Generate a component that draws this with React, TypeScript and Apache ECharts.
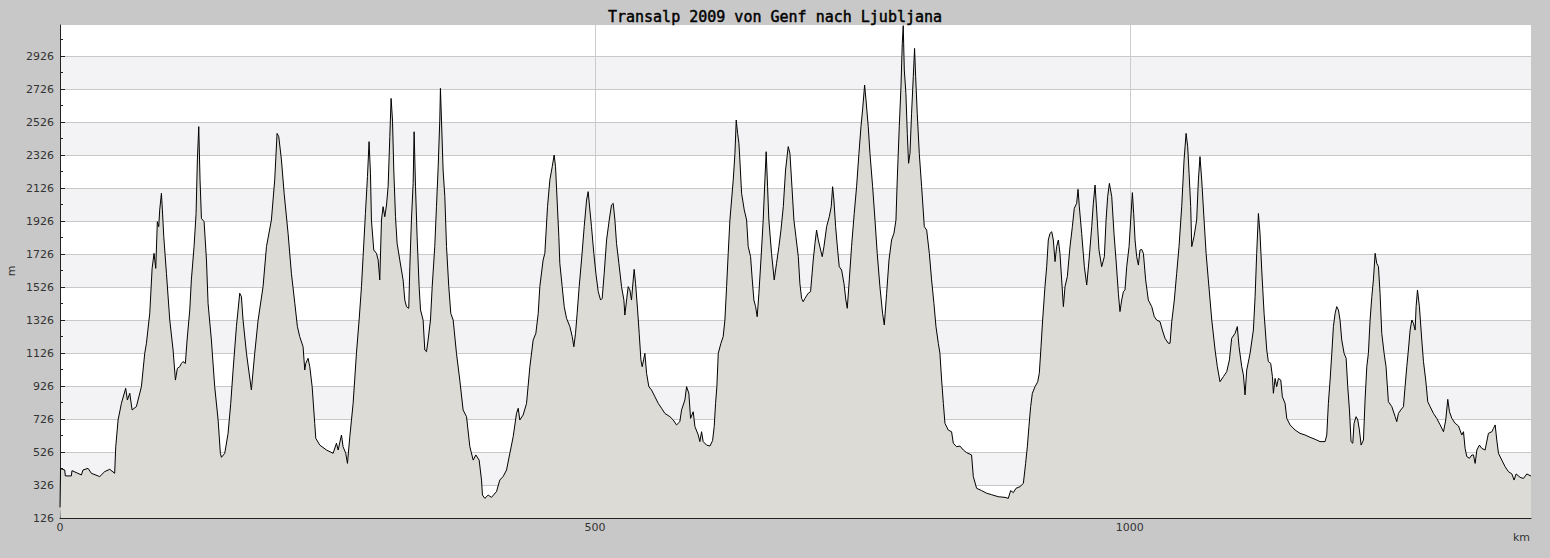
import React, { useEffect, useRef } from "react";
import * as echarts from "echarts";

const chartTitle = "Transalp 2009 von Genf nach Ljubljana";

const distanceKm = [
  0, 0.5, 4.4, 5.0, 10.6, 11.2, 20.0, 21.5, 26.2, 29.3, 37.1, 41.8, 46.5, 51.1, 52.1, 54.3, 57.4, 61.4, 63.0, 65.2,
  67.4, 71.4, 76.1, 79.2, 80.8, 83.9, 86.1, 87.9, 89.5, 91.0, 92.3, 93.2, 94.8, 95.7, 97.0, 99.5, 102.6, 105.7, 107.9, 109.7,
  111.9, 113.5, 115.0, 117.2, 118.8, 121.3, 122.8, 125.3, 127.2, 128.4, 129.7, 130.9, 132.2, 134.7, 136.9, 138.4, 141.5, 144.6, 147.8, 149.9,
  150.9, 154.0, 157.1, 159.6, 161.8, 164.9, 168.0, 169.6, 171.1, 174.3, 178.9, 182.0, 185.2, 189.8, 193.0, 197.6, 200.7, 202.9, 204.5, 207.0,
  209.5, 213.2, 216.3, 219.5, 221.9, 224.1, 227.2, 228.8, 229.7, 231.9, 233.5, 235.7, 238.1, 239.1, 242.8, 249.1, 255.3, 258.4, 260.0, 263.1,
  264.6, 267.1, 268.7, 270.9, 274.0, 277.1, 279.6, 281.8, 283.3, 285.5, 287.4, 288.9, 290.2, 291.1, 293.3, 295.8, 297.4, 298.9, 300.5, 302.0,
  303.6, 305.2, 306.7, 308.3, 309.5, 310.8, 312.0, 313.6, 315.1, 317.6, 320.7, 322.3, 323.9, 326.0, 327.0, 328.5, 330.1, 331.0, 332.3, 333.8,
  335.7, 337.0, 339.4, 341.0, 342.6, 344.1, 346.3, 347.9, 350.3, 351.9, 353.5, 355.0, 355.6, 356.6, 358.1, 359.7, 361.3, 363.4, 365.3, 367.5,
  370.6, 373.7, 376.8, 380.0, 383.1, 386.2, 388.7, 391.8, 394.0, 394.9, 397.1, 400.2, 403.3, 408.0, 411.1, 414.2, 417.4, 420.5, 423.6, 426.7,
  428.3, 429.8, 432.9, 436.1, 439.2, 442.3, 444.8, 447.0, 448.5, 451.6, 453.2, 455.7, 457.9, 460.1, 461.9, 463.2, 465.1, 466.3, 467.2, 469.4,
  471.3, 473.5, 476.6, 478.8, 480.3, 481.9, 483.4, 485.3, 487.5, 490.0, 492.2, 493.7, 495.3, 496.8, 499.0, 500.9, 503.1, 505.3, 506.8, 508.7,
  510.9, 513.4, 515.5, 517.1, 518.7, 520.2, 522.4, 524.9, 527.1, 528.0, 529.6, 531.1, 532.7, 534.2, 535.8, 536.7, 538.0, 539.9, 541.4, 543.0,
  544.2, 545.5, 546.7, 548.3, 550.4, 552.9, 556.1, 559.2, 562.3, 565.4, 570.1, 573.2, 576.3, 579.4, 581.0, 584.1, 585.7, 587.8, 589.4, 591.9,
  593.5, 596.6, 598.1, 599.7, 601.2, 604.4, 607.5, 610.0, 611.5, 612.8, 614.0, 615.3, 617.8, 619.9, 621.5, 623.1, 624.6, 626.2, 629.3, 630.9,
  632.1, 633.4, 634.6, 635.5, 637.1, 639.6, 641.8, 643.3, 645.5, 647.1, 648.6, 650.2, 651.7, 653.3, 655.2, 657.3, 658.9, 660.1, 661.4, 662.6,
  665.1, 667.6, 669.8, 672.0, 673.9, 676.1, 678.2, 680.7, 682.3, 683.8, 686.0, 687.9, 690.1, 691.6, 693.2, 694.7, 696.3, 699.4, 701.6, 702.5,
  704.1, 705.7, 707.2, 708.8, 711.0, 712.5, 714.1, 716.6, 719.1, 720.9, 722.2, 723.4, 725.0, 726.9, 728.4, 730.6, 732.8, 734.6, 735.9, 737.8,
  739.9, 742.4, 744.6, 746.8, 748.7, 750.2, 752.1, 753.4, 755.5, 757.1, 759.6, 761.8, 763.9, 766.4, 768.9, 770.5, 772.7, 774.9, 777.3, 779.5,
  781.4, 782.6, 784.5, 786.1, 787.3, 788.2, 789.2, 790.7, 792.0, 793.2, 794.5, 796.0, 797.6, 798.8, 799.8, 801.3, 803.2, 805.4, 807.9, 810.1,
  812.6, 814.7, 816.9, 818.8, 821.0, 822.5, 824.1, 825.7, 827.2, 830.3, 833.4, 835.0, 838.1, 841.2, 844.4, 847.5, 852.1, 853.7, 856.8, 861.5,
  866.2, 870.9, 877.1, 883.3, 886.4, 888.6, 891.1, 893.6, 897.3, 900.5, 902.6, 904.2, 905.7, 907.3, 908.9, 911.4, 913.9, 915.4, 917.0, 918.5,
  920.7, 922.3, 923.8, 925.4, 927.0, 928.5, 930.1, 931.6, 933.2, 934.7, 936.3, 937.9, 939.4, 941.6, 944.1, 946.3, 948.1, 950.3, 951.6, 952.8,
  955.0, 957.5, 959.7, 961.9, 964.4, 965.9, 967.5, 969.0, 971.2, 973.7, 976.2, 977.8, 979.3, 980.9, 983.1, 985.2, 987.1, 989.3, 990.8, 992.4,
  994.0, 995.5, 997.1, 999.3, 1000.8, 1002.4, 1003.6, 1004.9, 1006.4, 1008.0, 1009.5, 1011.1, 1012.7, 1014.8, 1017.3, 1020.5, 1022.9, 1025.1, 1028.2, 1030.4,
  1032.9, 1036.0, 1037.6, 1039.2, 1041.6, 1043.8, 1046.0, 1048.5, 1050.7, 1052.6, 1054.1, 1055.4, 1056.9, 1057.9, 1060.0, 1062.5, 1064.1, 1065.6, 1067.2, 1069.4,
  1071.3, 1073.4, 1076.6, 1079.7, 1081.8, 1084.3, 1087.5, 1090.6, 1093.1, 1095.2, 1098.4, 1100.5, 1102.1, 1104.6, 1106.2, 1107.7, 1109.3, 1112.4, 1115.5, 1117.1,
  1118.6, 1120.2, 1121.7, 1123.3, 1125.5, 1128.0, 1129.5, 1131.7, 1133.3, 1134.2, 1135.8, 1137.3, 1138.9, 1141.1, 1142.6, 1145.1, 1146.7, 1149.8, 1154.5, 1159.1,
  1163.8, 1168.5, 1173.2, 1177.8, 1182.5, 1184.1, 1185.6, 1187.2, 1188.8, 1190.3, 1191.9, 1193.4, 1195.0, 1196.5, 1198.1, 1200.3, 1202.2, 1203.7, 1205.3, 1206.8,
  1208.4, 1209.6, 1211.5, 1213.1, 1214.6, 1216.2, 1218.4, 1219.9, 1221.5, 1223.0, 1224.6, 1226.2, 1227.7, 1229.3, 1230.8, 1232.4, 1233.9, 1235.5, 1237.7, 1239.5,
  1241.7, 1244.9, 1248.0, 1249.5, 1251.1, 1253.3, 1255.8, 1257.3, 1258.9, 1260.4, 1262.0, 1263.6, 1265.1, 1266.7, 1267.6, 1268.9, 1270.7, 1272.9, 1274.5, 1276.6,
  1278.5, 1280.7, 1283.8, 1286.9, 1290.1, 1293.2, 1295.3, 1297.2, 1298.8, 1301.0, 1304.1, 1307.2, 1310.3, 1311.9, 1313.4, 1315.0, 1317.5, 1319.7, 1321.2, 1322.8,
  1324.4, 1326.8, 1329.0, 1332.1, 1335.2, 1338.4, 1339.9, 1341.5, 1343.0, 1344.6, 1347.7, 1350.8, 1353.9, 1357.1, 1359.2, 1361.1, 1364.9, 1368.0, 1371.1, 1375.0,
];

const elevationM = [
  190, 425, 417, 381, 381, 413, 387, 417, 427, 397, 377, 407, 421, 397, 558, 720, 821, 912, 841, 882,
  781, 801, 922, 1124, 1185, 1367, 1639, 1730, 1639, 1922, 1892, 1993, 2094, 1993, 1831, 1609, 1326, 1144, 962, 1033,
  1043, 1063, 1074, 1063, 1205, 1387, 1569, 1771, 1972, 2296, 2498, 2175, 1942, 1922, 1690, 1427, 1205, 922, 720, 518,
  494, 518, 639, 821, 1023, 1286, 1488, 1467, 1326, 1124, 902, 1124, 1326, 1528, 1771, 1932, 2175, 2457, 2437, 2296,
  2094, 1851, 1609, 1427, 1286, 1225, 1164, 1023, 1063, 1094, 1043, 922, 700, 609, 568, 538, 518, 579, 538, 629,
  558, 518, 457, 619, 821, 1124, 1326, 1528, 1710, 1972, 2195, 2407, 2215, 1932, 1750, 1730, 1690, 1569, 1932, 2013,
  1952, 2023, 2134, 2437, 2669, 2538, 2235, 1952, 1791, 1690, 1569, 1447, 1407, 1397, 1649, 1932, 2154, 2467, 2134, 1831,
  1528, 1387, 1326, 1144, 1134, 1205, 1326, 1528, 1771, 2013, 2255, 2538, 2730, 2538, 2235, 2074, 1771, 1528, 1366, 1326,
  1124, 962, 781, 740, 558, 477, 508, 477, 356, 265, 245, 265, 251, 286, 356, 377, 417, 518, 619, 760,
  791, 720, 750, 821, 1043, 1205, 1245, 1366, 1528, 1690, 1730, 2013, 2175, 2255, 2326, 2255, 1993, 1831, 1670, 1528,
  1407, 1336, 1286, 1225, 1164, 1245, 1366, 1528, 1690, 1892, 2053, 2104, 1993, 1892, 1730, 1609, 1498, 1447, 1457, 1609,
  1811, 1932, 2023, 2033, 1932, 1791, 1670, 1528, 1447, 1356, 1447, 1528, 1508, 1447, 1569, 1633, 1548, 1387, 1245, 1084,
  1043, 1084, 1124, 1003, 922, 902, 861, 821, 791, 760, 740, 720, 690, 710, 781, 841, 922, 882, 730, 770,
  680, 629, 589, 649, 589, 568, 562, 595, 680, 821, 922, 1124, 1185, 1225, 1326, 1528, 1730, 1932, 2175, 2336,
  2538, 2457, 2397, 2296, 2094, 1993, 1932, 1771, 1710, 1569, 1447, 1407, 1346, 1488, 1690, 1932, 2175, 2346, 2134, 1932,
  1730, 1569, 1670, 1771, 1871, 2013, 2235, 2377, 2336, 2175, 1932, 1831, 1710, 1548, 1457, 1437, 1457, 1488, 1498, 1569,
  1690, 1791, 1871, 1811, 1750, 1710, 1771, 1892, 1952, 2013, 2134, 2053, 1892, 1750, 1649, 1629, 1548, 1447, 1397, 1569,
  1771, 1972, 2134, 2336, 2498, 2599, 2750, 2659, 2498, 2336, 2134, 1932, 1730, 1528, 1366, 1296, 1488, 1690, 1811, 1851,
  1932, 2175, 2498, 2740, 3003, 3110, 2841, 2700, 2457, 2276, 2336, 2579, 2801, 2972, 2801, 2579, 2336, 2134, 1892, 1871,
  1730, 1569, 1427, 1286, 1185, 1124, 962, 821, 700, 659, 649, 579, 558, 562, 538, 522, 508, 377, 306, 292,
  276, 267, 255, 251, 245, 292, 280, 306, 316, 336, 457, 558, 680, 801, 882, 922, 952, 1003, 1164, 1326,
  1528, 1649, 1811, 1851, 1861, 1811, 1680, 1771, 1811, 1730, 1569, 1407, 1528, 1589, 1771, 1892, 2003, 2033, 2118, 2013,
  1851, 1649, 1538, 1690, 1892, 2033, 2144, 1993, 1750, 1649, 1710, 1932, 2074, 2154, 2074, 1851, 1690, 1488, 1377, 1447,
  1498, 1508, 1649, 1771, 1932, 2098, 1972, 1811, 1710, 1659, 1750, 1754, 1730, 1569, 1447, 1407, 1346, 1326, 1316, 1265,
  1215, 1185, 1185, 1316, 1447, 1609, 1771, 2013, 2296, 2457, 2377, 2215, 2013, 1771, 1831, 1932, 2175, 2316, 2175, 1932,
  1730, 1569, 1326, 1144, 1043, 952, 983, 1013, 1084, 1215, 1245, 1286, 1164, 1043, 993, 872, 1023, 1124, 1265, 1467,
  1730, 1972, 1851, 1629, 1366, 1144, 1074, 1063, 983, 882, 972, 922, 972, 962, 861, 821, 730, 690, 659, 639,
  629, 615, 603, 589, 589, 629, 821, 962, 1124, 1286, 1366, 1407, 1387, 1326, 1205, 1124, 1094, 922, 781, 589,
  579, 700, 740, 720, 659, 568, 599, 841, 1043, 1124, 1326, 1467, 1569, 1730, 1670, 1649, 1488, 1245, 1124, 1043,
  831, 801, 740, 710, 760, 781, 801, 922, 1043, 1144, 1265, 1326, 1306, 1265, 1407, 1508, 1407, 1205, 1074, 962,
  831, 801, 760, 730, 690, 649, 720, 845, 770, 730, 700, 684, 629, 649, 548, 498, 488, 508, 508, 457,
  538, 568, 548, 538, 639, 649, 669, 690, 599, 518, 477, 437, 407, 393, 356, 393, 372, 366, 393, 380,
];

const yTickLabels = [126, 326, 526, 726, 926, 1126, 1326, 1526, 1726, 1926, 2126, 2326, 2526, 2726, 2926];
const yMinorTicks = [226, 426, 626, 826, 1026, 1226, 1426, 1626, 1826, 2026, 2226, 2426, 2626, 2826, 3026];
const xTickLabels = [0, 500, 1000];
const xMinorTicks = [100, 200, 300, 400, 600, 700, 800, 900, 1100, 1200, 1300];

const X_MAX = 1375;
const Y_MIN = 126;
const Y_MAX = 3114;

export default function App() {
  const ref = useRef<HTMLDivElement>(null);

  useEffect(() => {
    if (!ref.current) return;
    const chart = echarts.init(ref.current, null, { renderer: "svg" });
    const data = distanceKm.map((d, i) => [d, elevationM[i]]);
    const axisColor = "#222222";
    const labelFont = "DejaVu Sans";
    const plain = (v: number) => String(v);

    chart.setOption({
      animation: false,
      backgroundColor: "#c8c8c8",
      title: {
        text: chartTitle,
        left: "center",
        top: 4,
        textStyle: {
          fontFamily: "DejaVu Sans Mono",
          fontSize: 15,
          fontWeight: "normal",
          color: "#000000",
          textBorderColor: "#000000",
          textBorderWidth: 0.45,
        },
      },
      grid: {
        left: 60,
        right: 19,
        top: 25,
        bottom: 40,
        containLabel: false,
        outerBoundsMode: "none",
        show: true,
        backgroundColor: "#ffffff",
        borderWidth: 0,
      },
      xAxis: [
        {
          type: "value",
          position: "bottom",
          min: 0,
          max: X_MAX,
          interval: 500,
          axisLine: { show: true, lineStyle: { color: axisColor, width: 1 } },
          axisTick: {
            show: true,
            inside: true,
            length: 5,
            customValues: xTickLabels,
            lineStyle: { color: axisColor },
          },
          axisLabel: {
            customValues: xTickLabels,
            formatter: plain,
            margin: 4,
            fontFamily: labelFont,
            fontSize: 11,
            color: "#333333",
          },
          splitLine: { show: true, lineStyle: { color: "#cccccc", width: 1 } },
        },
        {
          type: "value",
          position: "bottom",
          offset: 0,
          min: 0,
          max: X_MAX,
          interval: 100,
          axisLine: { show: false },
          axisTick: {
            show: true,
            inside: true,
            length: 3,
            customValues: xMinorTicks,
            lineStyle: { color: axisColor },
          },
          axisLabel: { show: false },
          splitLine: { show: false },
        },
      ],
      yAxis: [
        {
          type: "value",
          position: "left",
          min: Y_MIN,
          max: Y_MAX,
          interval: 200,
          axisLine: { show: true, lineStyle: { color: axisColor, width: 1 } },
          axisTick: {
            show: true,
            inside: true,
            length: 5,
            customValues: yTickLabels,
            lineStyle: { color: axisColor },
          },
          axisLabel: {
            customValues: yTickLabels,
            formatter: plain,
            margin: 6,
            fontFamily: labelFont,
            fontSize: 11,
            color: "#333333",
          },
          splitLine: { show: true, lineStyle: { color: "#c8c8c8", width: 1 } },
          splitArea: { show: true, areaStyle: { color: ["#ffffff", "#f3f2f5"] } },
        },
        {
          type: "value",
          position: "left",
          offset: 0,
          min: Y_MIN,
          max: Y_MAX,
          interval: 100,
          axisLine: { show: false },
          axisTick: {
            show: true,
            inside: true,
            length: 3,
            customValues: yMinorTicks,
            lineStyle: { color: axisColor },
          },
          axisLabel: { show: false },
          splitLine: { show: false },
        },
      ],
      graphic: [
        {
          type: "text",
          x: 11,
          y: 271,
          rotation: Math.PI / 2,
          style: {
            text: "m",
            fontFamily: labelFont,
            fontSize: 11,
            fill: "#333333",
            align: "center",
            verticalAlign: "middle",
          },
        },
        {
          type: "text",
          x: 1530,
          y: 537,
          style: {
            text: "km",
            fontFamily: labelFont,
            fontSize: 11,
            fill: "#333333",
            align: "right",
            verticalAlign: "middle",
          },
        },
      ],
      series: [
        {
          type: "line",
          xAxisIndex: 0,
          yAxisIndex: 0,
          data,
          showSymbol: false,
          symbol: "none",
          smooth: false,
          lineStyle: { color: "#000000", width: 1 },
          areaStyle: { color: "#dcdbd6", opacity: 1, origin: "start" },
          silent: true,
          z: 3,
        },
      ],
    });

    return () => chart.dispose();
  }, []);

  return (
    <div
      ref={ref}
      style={{ position: "fixed", left: 0, top: 0, width: 1550, height: 558 }}
    />
  );
}
